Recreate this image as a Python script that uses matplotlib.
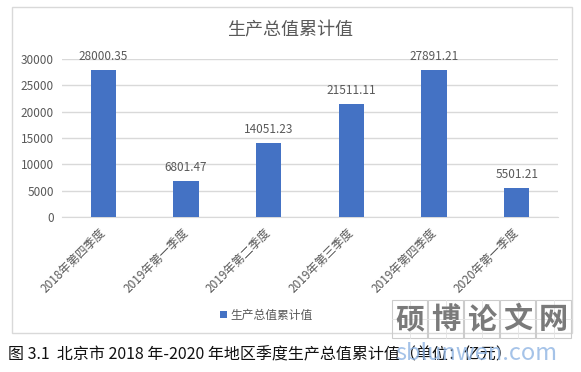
import matplotlib.pyplot as plt
from matplotlib.patches import Rectangle

plt.rcParams['font.family'] = ['Noto Sans CJK SC', 'DejaVu Sans']

categories = ['2018年第四季度', '2019年第一季度', '2019年第二季度',
              '2019年第三季度', '2019年第四季度', '2020年第一季度']
values = [28000.35, 6801.47, 14051.23, 21511.11, 27891.21, 5501.21]
value_labels = ['28000.35', '6801.47', '14051.23', '21511.11', '27891.21', '5501.21']
yticks = [0, 5000, 10000, 15000, 20000, 25000, 30000]

series_name = '生产总值累计值'
title = '生产总值累计值'
caption = '图 3.1  北京市 2018 年-2020 年地区季度生产总值累计值（单位：亿元）'
wm_chars = ['硕', '博', '论', '文', '网']
wm_url = 'sblunwen.com'

W, H = 581, 372
fig = plt.figure(figsize=(W / 100, H / 100), dpi=100)

# chart border
fig.patches.append(Rectangle((12 / W, 1 - 333 / H), 560 / W, 326 / H,
                             transform=fig.transFigure, fill=False,
                             edgecolor='#d9d9d9', linewidth=1))

ax = fig.add_axes([62 / W, 1 - 217 / H, 496 / W, 158 / H])
x = range(len(categories))
bars = ax.bar(x, values, width=0.31, color='#4472C4', label=series_name, zorder=3)

for b, lab in zip(bars, value_labels):
    ax.annotate(lab, (b.get_x() + b.get_width() / 2, b.get_height()),
                xytext=(0, 5), textcoords='offset points',
                ha='center', va='bottom', fontsize=8.5, color='#595959')

ax.set_xlim(-0.5, len(categories) - 0.5)
ax.set_ylim(0, 30000)
ax.set_yticks(yticks)
ax.set_yticklabels([str(v) for v in yticks], fontsize=8.5, color='#595959')
ax.set_xticks(list(x))
ax.set_xticklabels(categories, rotation=45, ha='right', va='center',
                   rotation_mode='anchor', fontsize=8.5, color='#595959')
ax.tick_params(axis='both', length=0)
ax.tick_params(axis='y', pad=6)
ax.tick_params(axis='x', pad=10)
ax.yaxis.grid(True, color='#d9d9d9', linewidth=1, zorder=0)
for s in ['top', 'right', 'left']:
    ax.spines[s].set_visible(False)
ax.spines['bottom'].set_color('#d9d9d9')

fig.text(290 / W, 1 - 30 / H, title, ha='center', va='center',
         fontsize=13, color='#595959')

fig.legend(loc='center', bbox_to_anchor=(266 / W, 1 - 315 / H), frameon=False,
           fontsize=8.5, handlelength=0.6, handleheight=0.6, handletextpad=0.3,
           labelcolor='#595959')

fig.text(8 / W, 1 - 355 / H, caption, ha='left', va='center', fontsize=11.5,
         color='#111111')

# watermark
for i, ch in enumerate(wm_chars):
    x0 = (392 + i * 36) / W
    y0 = 1 - 338 / H
    fig.patches.append(Rectangle((x0, y0), 35 / W, 38 / H, transform=fig.transFigure,
                                 fill=False, edgecolor='#cccccc', linewidth=0.8))
    fig.lines.append(plt.Line2D([x0 + 17.5 / W] * 2, [y0, y0 + 38 / H],
                                transform=fig.transFigure, color='#e3e3e3', linewidth=0.6))
    fig.lines.append(plt.Line2D([x0, x0 + 35 / W], [y0 + 19 / H] * 2,
                                transform=fig.transFigure, color='#e3e3e3', linewidth=0.6))
    fig.text(x0 + 17.5 / W, y0 + 19 / H, ch, ha='center', va='center',
             fontsize=21, fontweight='semibold', color='#7a7a7a')
fig.text(476 / W, 1 - 353 / H, wm_url, ha='center', va='center', fontsize=17,
         color='#8fb4e3', alpha=0.8)

fig.savefig('out.png', dpi=100)
